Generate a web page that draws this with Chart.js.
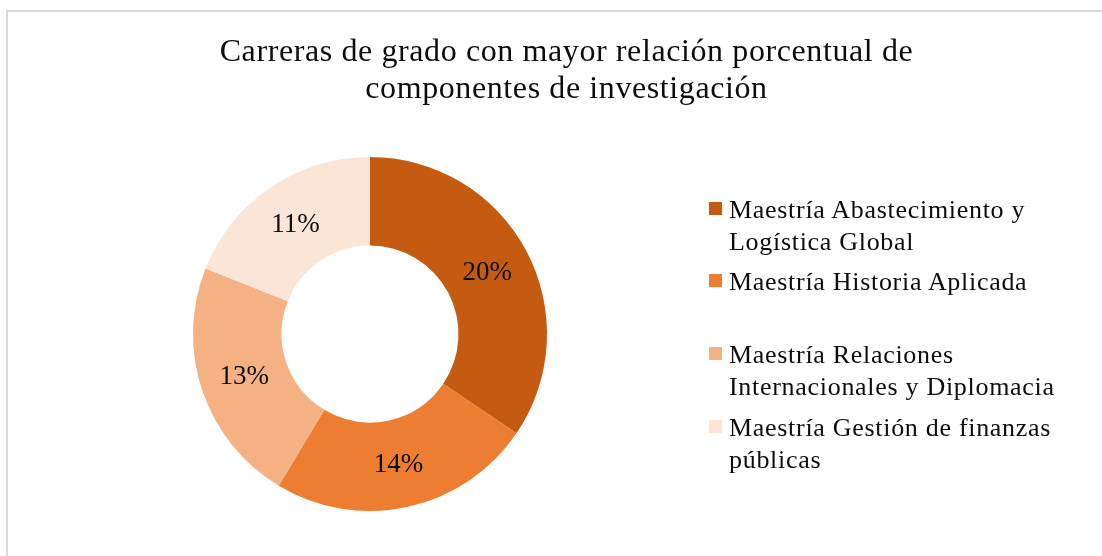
<!DOCTYPE html>
<html lang="es">
<head>
<meta charset="utf-8">
<script src="https://cdn.jsdelivr.net/npm/chart.js@4"></script>
<style>
  html, body { margin: 0; padding: 0; background: #fff; overflow: hidden; }
  #wrap { position: relative; width: 1102px; height: 556px; overflow: hidden; }
  #frame { position: absolute; left: 6px; top: 10px; width: 1200px; height: 700px; border: 2px solid #d9d9d9; box-sizing: border-box; }
  #chart { position: absolute; left: 0; top: 0; }
  .title { position: absolute; left: 0; width: 1133px; text-align: center; font-family: 'Liberation Serif', 'Times New Roman', serif; font-size: 32px; letter-spacing: 0.6px; color: #0d0d0d; line-height: 37px; top: 32px; }
  #legend { position: absolute; left: 709px; top: 0; font-family: 'Liberation Serif', 'Times New Roman', serif; font-size: 26px; color: #0d0d0d; letter-spacing: 0.7px; }
  .item { position: absolute; left: 0; white-space: nowrap; line-height: 32px; }
  .box { position: absolute; left: 0; width: 13px; height: 13px; }
  .txt { position: absolute; left: 20px; }
</style>
</head>
<body>
<div id="wrap">
  <div id="frame"></div>
  <canvas id="chart" width="1102" height="556"></canvas>
  <div class="title">Carreras de grado con mayor relación porcentual de<br>componentes de investigación</div>
  <div id="legend"></div>
</div>
<script>
const careers = [
  ['Maestría Abastecimiento y', 'Logística Global'],
  ['Maestría Historia Aplicada'],
  ['Maestría Relaciones', 'Internacionales y Diplomacia'],
  ['Maestría Gestión de finanzas', 'públicas'],
];
const shares = [20, 14, 13, 11];
const shareLabels = ['20%', '14%', '13%', '11%'];
const colors = ['#C55A11', '#ED7D31', '#F4B183', '#FBE5D6'];
const legendTops = [194, 266, 339, 412];

const legend = document.getElementById('legend');
legend.innerHTML = careers.map((lines, i) => `
  <div class="item" style="top:${legendTops[i]}px">
    <div class="box" style="top:8px;background:${colors[i]}"></div>
    <div class="txt">${lines.join('<br>')}</div>
  </div>`).join('');

const sliceLabels = {
  id: 'sliceLabels',
  afterDatasetsDraw(chart) {
    const { ctx } = chart;
    const meta = chart.getDatasetMeta(0);
    ctx.save();
    ctx.font = '27px "Liberation Serif", "Times New Roman", serif';
    ctx.fillStyle = '#0d0d0d';
    ctx.textAlign = 'center';
    ctx.textBaseline = 'middle';
    meta.data.forEach((arc, i) => {
      const p = arc.tooltipPosition();
      ctx.fillText(shareLabels[i], p.x, p.y + 1);
    });
    ctx.restore();
  },
};

new Chart(document.getElementById('chart'), {
  type: 'doughnut',
  data: {
    labels: careers.map((l) => l.join(' ')),
    datasets: [{ data: shares, backgroundColor: colors, borderWidth: 0, hoverOffset: 0 }],
  },
  options: {
    responsive: false,
    animation: false,
    cutout: '50%',
    layout: { padding: { left: 193, right: 555, top: 157, bottom: 45 } },
    plugins: { legend: { display: false }, title: { display: false }, tooltip: { enabled: false } },
  },
  plugins: [sliceLabels],
});
</script>
</body>
</html>
